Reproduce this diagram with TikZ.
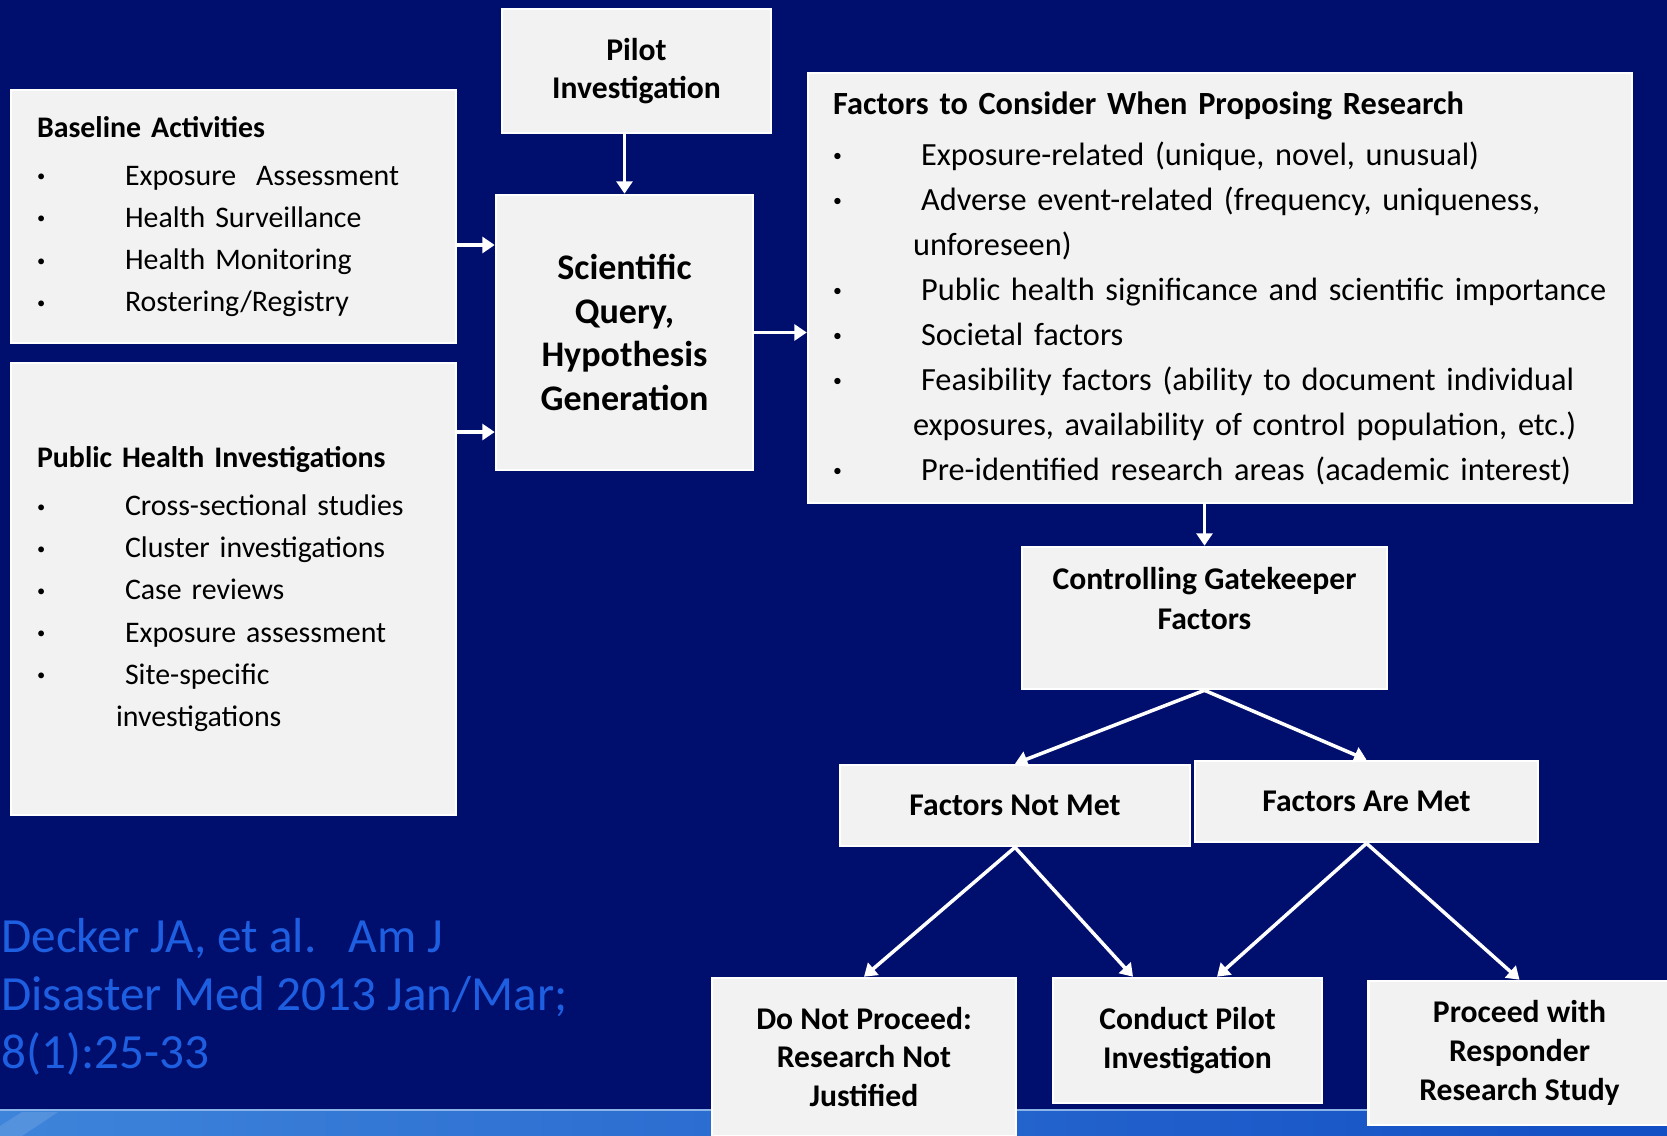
\documentclass[tikz,border=0pt]{standalone}
\usepackage{fontspec}
\usepackage{graphicx}
\setmainfont{Carlito}
\usetikzlibrary{positioning,arrows.meta}
\definecolor{navy}{RGB}{0,14,110}
\definecolor{boxgray}{RGB}{242,242,242}
\definecolor{citeblue}{RGB}{30,95,225}
\definecolor{bandlight}{RGB}{62,132,218}
\definecolor{banddark}{RGB}{18,78,196}
\tikzset{box/.style={draw=white,line width=1.5pt,fill=boxgray,inner sep=0pt,align=center,
                     font=\bfseries\fontsize{18}{22}\selectfont},
         listbox/.style={box,align=left,inner xsep=0.52cm,font=\fontsize{17}{24}\selectfont},
         arr/.style={draw=white,line width=2pt,-{Triangle[length=7pt,width=9pt]}}
         }
\newcommand{\itm}[1]{\mbox{\makebox[1.76cm][l]{\raisebox{0.12em}{\scalebox{0.55}{\textbullet}}}#1}}

\begin{document}
\begin{tikzpicture}[x=0.02cm,y=-0.02cm]
  \useasboundingbox (0,0) rectangle (1667,1136);
  \fill[navy] (0,0) rectangle (1667,1136);
  \shade[left color=bandlight,right color=banddark] (0,1110) rectangle (1667,1136);
  \draw[color=bandlight!60!white,line width=1pt] (0,1110) -- (1667,1110);
  \fill[white,opacity=0.12] (0,1136) -- (0,1126) -- (22,1112) -- (58,1112) -- (22,1136) -- cycle;

  % left column
  \node[listbox,minimum height=5.06cm,text width=7.86cm] (base) at (233.5,216.5)
    {\textbf{Baseline Activities}\\[3.4pt]
     \itm{Exposure\ \ Assessment}\\
     \itm{Health Surveillance}\\
     \itm{Health Monitoring}\\
     \itm{Rostering/Registry}};
  \node[listbox,minimum height=9.04cm,text width=7.86cm] (ph) at (233.5,589)
    {\textbf{Public Health Investigations}\\[3.4pt]
     \itm{Cross-sectional studies}\\
     \itm{Cluster investigations}\\
     \itm{Case reviews}\\
     \itm{Exposure assessment}\\
     \itm{Site-specific}\\
     \hspace*{1.58cm}investigations};

  % middle
  \node[box,minimum width=5.38cm,minimum height=2.48cm] (pilot) at (636.5,71) {Pilot\\Investigation};
  \node[box,minimum width=5.14cm,minimum height=5.5cm,font=\bfseries\fontsize{20.5}{25}\selectfont]
    (sci) at (624.5,332.5) {Scientific\\Query,\\Hypothesis\\Generation};

  % factors
  \node[listbox,inner xsep=0.5cm,minimum height=8.6cm,text width=15.48cm,
        font=\fontsize{18.4}{25.6}\selectfont] (fac) at (1220,288)
    {\textbf{Factors to Consider When Proposing Research}\\[3.4pt]
     \itm{Exposure-related (unique, novel, unusual)}\\
     \itm{Adverse event-related (frequency, uniqueness,}\\
     \hspace*{1.6cm}unforeseen)\\
     \itm{Public health significance and scientific importance}\\
     \itm{Societal factors}\\
     \itm{Feasibility factors (ability to document individual}\\
     \hspace*{1.6cm}exposures, availability of control population, etc.)\\
     \itm{Pre-identified\ research areas (academic interest)}};

  % decision tree
  \node[box,minimum width=7.3cm,minimum height=2.84cm,font=\bfseries\fontsize{18}{22.8}\selectfont]
    (gate) at (1204.5,618) {Controlling Gatekeeper\\Factors\\\mbox{}};
  \node[box,minimum width=7cm,minimum height=1.62cm] (notmet) at (1015,805.5) {Factors Not Met};
  \node[box,minimum width=6.86cm,minimum height=1.62cm] (aremet) at (1366.5,801.5) {Factors Are Met};
  \node[box,minimum width=6.08cm,minimum height=3.16cm] (stop) at (864,1057)
    {Do Not Proceed:\\Research Not\\Justified};
  \node[box,minimum width=5.38cm,minimum height=2.5cm] (conduct) at (1187.5,1040.5)
    {Conduct Pilot\\Investigation};
  \node[box,minimum width=6.03cm,minimum height=2.88cm] (proceed) at (1519.5,1053)
    {Proceed with\\Responder\\Research Study};

  % citation
  \node[anchor=west,align=left,inner sep=0pt,text=citeblue,font=\fontsize{28}{33}\selectfont]
    (cite) at (1,997) {Decker JA, et al.\hspace{0.35em} Am J\\Disaster Med 2013 Jan/Mar;\\8(1):25-33};

  % connectors
  \coordinate (b1) at ([yshift=-0.57cm]base.east);
  \coordinate (p1) at ([yshift=3.14cm]ph.east);
  \draw[arr] (b1) -- (b1 -| sci.west);
  \draw[arr] (p1) -- (p1 -| sci.west);
  \draw[arr] (pilot.south -| sci.north) -- (sci.north);
  \draw[arr] (sci.east) -- (sci.east -| fac.west);
  \draw[arr] (gate.north |- fac.south) -- (gate.north);
  \draw[arr] (gate.south) -- (notmet.north);
  \draw[arr] (gate.south) -- (aremet.north);
  \draw[arr] (notmet.south) -- (stop.north);
  \draw[arr] (notmet.south) -- ([xshift=-1.09cm]conduct.north);
  \draw[arr] (aremet.south) -- ([xshift=0.59cm]conduct.north);
  \draw[arr] (aremet.south) -- (proceed.north);
\end{tikzpicture}
\end{document}
